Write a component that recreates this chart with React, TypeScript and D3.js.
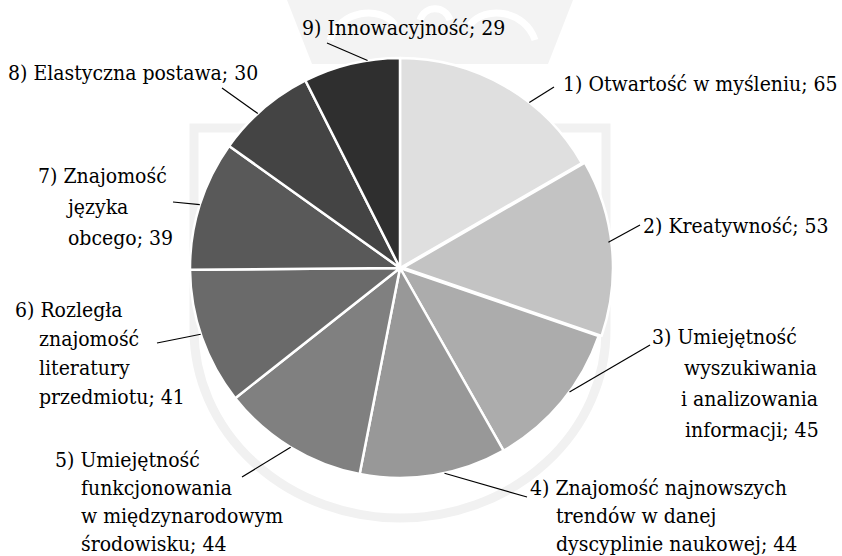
import { useEffect, useRef } from 'react';
import * as d3 from 'd3';

// Data
const categories = [
  '1) Otwartość w myśleniu',
  '2) Kreatywność',
  '3) Umiejętność wyszukiwania i analizowania informacji',
  '4) Znajomość najnowszych trendów w danej dyscyplinie naukowej',
  '5) Umiejętność funkcjonowania w międzynarodowym środowisku',
  '6) Rozległa znajomość literatury przedmiotu',
  '7) Znajomość języka obcego',
  '8) Elastyczna postawa',
  '9) Innowacyjność',
];
const values = [65, 53, 45, 44, 44, 41, 39, 30, 29];
const labelLines = [
  ['1) Otwartość w myśleniu; 65'],
  ['2) Kreatywność; 53'],
  ['3) Umiejętność', 'wyszukiwania', 'i analizowania', 'informacji; 45'],
  ['4) Znajomość najnowszych', 'trendów w danej', 'dyscyplinie naukowej; 44'],
  ['5) Umiejętność', 'funkcjonowania', 'w międzynarodowym', 'środowisku; 44'],
  ['6) Rozległa', 'znajomość', 'literatury', 'przedmiotu; 41'],
  ['7) Znajomość', 'języka', 'obcego; 39'],
  ['8) Elastyczna postawa; 30'],
  ['9) Innowacyjność; 29'],
];
const fills = ['#dfdfdf', '#c3c3c3', '#acacac', '#989898', '#808080', '#6a6a6a', '#595959', '#444444', '#2f2f2f'];

// Label layout: left x of first line, first baseline, line height, indents,
// leader start on the label side, and angular nudge (deg) of the leader end on the rim
const labelLayout = [
  { x: 563, y: 91, lh: 30, indent: [0], lead: [554, 87], nudge: 8 },
  { x: 643, y: 233, lh: 30, indent: [0], lead: [640, 225], nudge: -1.5 },
  { x: 652, y: 344, lh: 31, indent: [0, 32, 29, 33], lead: [650, 345], nudge: -3.5 },
  { x: 530, y: 495, lh: 28, indent: [0, 26, 26], lead: [527, 497], nudge: -3 },
  { x: 55, y: 467, lh: 28, indent: [0, 26, 26, 26], lead: [242, 477], nudge: 0 },
  { x: 15, y: 317, lh: 29, indent: [0, 24, 24, 24], lead: [157, 343], nudge: 1 },
  { x: 38, y: 183, lh: 31, indent: [0, 30, 30], lead: [173, 202], nudge: 0 },
  { x: 8, y: 80, lh: 30, indent: [0], lead: [222, 88], nudge: -2 },
  { x: 302, y: 35, lh: 30, indent: [0], lead: [327, 43], nudge: 4.5 },
];

const W = 842;
const H = 556;
const CX = 400;
const CY = 268;
const R = 210;

export default function App() {
  const ref = useRef<SVGSVGElement>(null);

  useEffect(() => {
    if (!ref.current) return;
    const svg = d3.select(ref.current);
    svg.selectAll('*').remove();

    // faint watermark behind the chart
    const wm = svg.append('g');
    wm.append('path')
      .attr('d', 'M287,0 L573,0 L548,64 L312,64 Z')
      .attr('fill', '#f3f3f3');
    wm.append('path')
      .attr('d', 'M330,40 C340,10 380,5 395,25 M470,25 C485,5 525,10 535,40 M420,20 C425,5 445,5 450,20')
      .attr('fill', 'none')
      .attr('stroke', '#ffffff')
      .attr('stroke-width', 7);
    wm.append('path')
      .attr('d', 'M194,128 H606 V330 A206,188 0 0 1 400,518 A206,188 0 0 1 194,330 Z')
      .attr('fill', 'none')
      .attr('stroke', '#f1f1f1')
      .attr('stroke-width', 9);

    const pie = d3
      .pie<number>()
      .sort(null)
      .value((d) => d);
    const arcs = pie(values);
    const arc = d3.arc<d3.PieArcDatum<number>>().innerRadius(0).outerRadius(R);
    const mid = (d: d3.PieArcDatum<number>, i: number) =>
      (d.startAngle + d.endAngle) / 2 + (labelLayout[i].nudge * Math.PI) / 180;

    const g = svg.append('g').attr('transform', `translate(${CX},${CY})`);

    g.selectAll('path.slice')
      .data(arcs)
      .join('path')
      .attr('class', 'slice')
      .attr('d', arc)
      .attr('fill', (_, i) => fills[i])
      .attr('stroke', '#ffffff')
      .attr('stroke-width', 2.5)
      .attr('stroke-linejoin', 'round')
      .attr('transform', (d, i) => {
        if (i !== 1) return null;
        const a = (d.startAngle + d.endAngle) / 2;
        return `translate(${3 * Math.sin(a)},${-3 * Math.cos(a)})`;
      });

    // leader lines
    g.selectAll('line.lead')
      .data(arcs)
      .join('line')
      .attr('class', 'lead')
      .attr('x1', (_, i) => labelLayout[i].lead[0] - CX)
      .attr('y1', (_, i) => labelLayout[i].lead[1] - CY)
      .attr('x2', (d, i) => R * Math.sin(mid(d, i)))
      .attr('y2', (d, i) => -R * Math.cos(mid(d, i)))
      .attr('stroke', '#000000')
      .attr('stroke-width', 1.2);

    // labels
    const texts = svg
      .append('g')
      .attr('font-family', "'DejaVu Serif Condensed', 'DejaVu Serif'")
      .attr('font-stretch', 'condensed')
      .attr('font-size', 21)
      .attr('fill', '#000000')
      .selectAll('text')
      .data(categories)
      .join('text')
      .attr('aria-label', (d) => d);

    texts
      .selectAll('tspan')
      .data((_, i) => labelLines[i].map((t, j) => ({ t, j, i })))
      .join('tspan')
      .attr('x', (d) => labelLayout[d.i].x + (labelLayout[d.i].indent[d.j] ?? 0))
      .attr('y', (d) => labelLayout[d.i].y + d.j * labelLayout[d.i].lh)
      .text((d) => d.t);
  }, []);

  return (
    <svg
      ref={ref}
      width={W}
      height={H}
      style={{ position: 'absolute', left: 0, top: 0, background: '#ffffff' }}
    />
  );
}
